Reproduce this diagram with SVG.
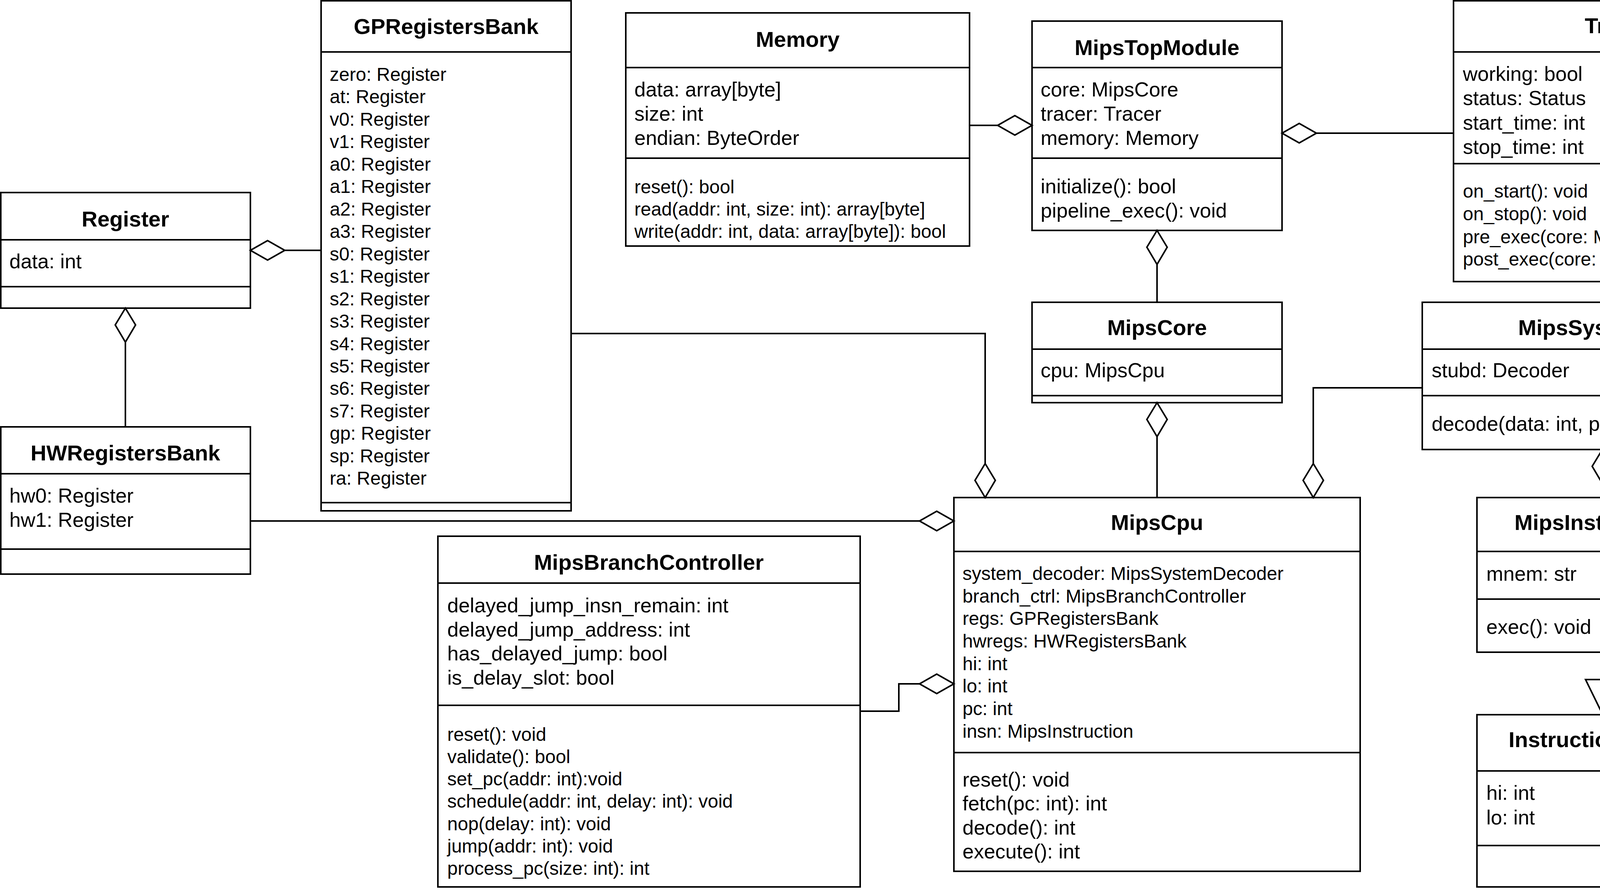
<svg xmlns="http://www.w3.org/2000/svg" width="5444" height="2284" viewBox="0 0 5444 2284">
<style>
.bx{fill:#fff;stroke:#000;stroke-width:4}
.dv{stroke:#000;stroke-width:4}
.ln{fill:none;stroke:#000;stroke-width:4}
.ag{fill:#fff;stroke:#000;stroke-width:4}
text{font-family:"Liberation Sans",Arial,Helvetica,sans-serif;fill:#000}
.t{font-size:56px;font-weight:bold;text-anchor:middle}
.s52{font-size:52px}
.s48{font-size:48px}
</style>
<rect x="0" y="0" width="5444" height="2284" fill="#fff"/>

<g id="Register">
<rect class="bx" x="2" y="493" width="639" height="296"/>
<line class="dv" x1="2" y1="614" x2="641" y2="614"/>
<line class="dv" x1="2" y1="734" x2="641" y2="734"/>
<text class="t" x="321" y="580">Register</text>
<text class="s52" x="24" y="687">data: int</text>
</g>

<g id="GPRegistersBank">
<rect class="bx" x="822" y="2" width="640" height="1306"/>
<line class="dv" x1="822" y1="133" x2="1462" y2="133"/>
<line class="dv" x1="822" y1="1287" x2="1462" y2="1287"/>
<text class="t" x="1142" y="87">GPRegistersBank</text>
<g class="s48">
<text x="844" y="207">zero: Register</text>
<text x="844" y="264">at: Register</text>
<text x="844" y="322">v0: Register</text>
<text x="844" y="379">v1: Register</text>
<text x="844" y="437">a0: Register</text>
<text x="844" y="494">a1: Register</text>
<text x="844" y="552">a2: Register</text>
<text x="844" y="609">a3: Register</text>
<text x="844" y="667">s0: Register</text>
<text x="844" y="724">s1: Register</text>
<text x="844" y="782">s2: Register</text>
<text x="844" y="839">s3: Register</text>
<text x="844" y="897">s4: Register</text>
<text x="844" y="954">s5: Register</text>
<text x="844" y="1011">s6: Register</text>
<text x="844" y="1069">s7: Register</text>
<text x="844" y="1126">gp: Register</text>
<text x="844" y="1184">sp: Register</text>
<text x="844" y="1241">ra: Register</text>
</g>
</g>

<g id="HWRegistersBank">
<rect class="bx" x="2" y="1093" width="639" height="377"/>
<line class="dv" x1="2" y1="1213" x2="641" y2="1213"/>
<line class="dv" x1="2" y1="1406" x2="641" y2="1406"/>
<text class="t" x="321" y="1179">HWRegistersBank</text>
<text class="s52" x="24" y="1287">hw0: Register</text>
<text class="s52" x="24" y="1349">hw1: Register</text>
</g>

<g id="Memory">
<rect class="bx" x="1602" y="33" width="880" height="597"/>
<line class="dv" x1="1602" y1="173" x2="2482" y2="173"/>
<line class="dv" x1="1602" y1="405" x2="2482" y2="405"/>
<text class="t" x="2042" y="120">Memory</text>
<text class="s52" x="1624" y="247">data: array[byte]</text>
<text class="s52" x="1624" y="309">size: int</text>
<text class="s52" x="1624" y="371">endian: ByteOrder</text>
<text class="s48" x="1624" y="495">reset(): bool</text>
<text class="s48" x="1624" y="552">read(addr: int, size: int): array[byte]</text>
<text class="s48" x="1624" y="609">write(addr: int, data: array[byte]): bool</text>
</g>

<g id="MipsTopModule">
<rect class="bx" x="2642" y="54" width="640" height="536"/>
<line class="dv" x1="2642" y1="173" x2="3282" y2="173"/>
<line class="dv" x1="2642" y1="405" x2="3282" y2="405"/>
<text class="t" x="2962" y="141">MipsTopModule</text>
<text class="s52" x="2664" y="247">core: MipsCore</text>
<text class="s52" x="2664" y="309">tracer: Tracer</text>
<text class="s52" x="2664" y="371">memory: Memory</text>
<text class="s52" x="2664" y="495">initialize(): bool</text>
<text class="s52" x="2664" y="557">pipeline_exec(): void</text>
</g>

<g id="MipsCore">
<rect class="bx" x="2642" y="774" width="640" height="257"/>
<line class="dv" x1="2642" y1="894" x2="3282" y2="894"/>
<line class="dv" x1="2642" y1="1013" x2="3282" y2="1013"/>
<text class="t" x="2962" y="858">MipsCore</text>
<text class="s52" x="2664" y="966">cpu: MipsCpu</text>
</g>

<g id="Tracer">
<rect class="bx" x="3721" y="2" width="841" height="719"/>
<line class="dv" x1="3721" y1="133" x2="4562" y2="133"/>
<line class="dv" x1="3721" y1="419" x2="4562" y2="419"/>
<text class="t" x="4141" y="85">Tracer</text>
<text class="s52" x="3745" y="207">working: bool</text>
<text class="s52" x="3745" y="269">status: Status</text>
<text class="s52" x="3745" y="332">start_time: int</text>
<text class="s52" x="3745" y="394">stop_time: int</text>
<text class="s48" x="3745" y="506">on_start(): void</text>
<text class="s48" x="3745" y="564">on_stop(): void</text>
<text class="s48" x="3745" y="623">pre_exec(core: MipsCore): void</text>
<text class="s48" x="3745" y="680">post_exec(core: MIpsCore): void</text>
</g>

<g id="Decoders">
<rect class="bx" x="4642" y="143" width="799" height="350"/>
<line class="dv" x1="4642" y1="254" x2="5441" y2="254"/>
<line class="dv" x1="4642" y1="375" x2="5441" y2="375"/>
<text class="t" x="5041" y="225">Decoders</text>
<text class="s48" x="4664" y="464">decode(data: int): MipsInstructions</text>
</g>

<g id="MipsSystemDecoder">
<rect class="bx" x="3641" y="774" width="1042" height="377"/>
<line class="dv" x1="3641" y1="894" x2="4683" y2="894"/>
<line class="dv" x1="3641" y1="1013" x2="4683" y2="1013"/>
<text class="t" x="4162" y="858">MipsSystemDecoder</text>
<text class="s52" x="3665" y="966">stubd: Decoder</text>
<text class="s52" x="3665" y="1103">decode(data: int, pc: int): MipsInstruction</text>
</g>

<g id="MipsBranchController">
<rect class="bx" x="1121" y="1373" width="1081" height="898"/>
<line class="dv" x1="1121" y1="1493" x2="2202" y2="1493"/>
<line class="dv" x1="1121" y1="1806" x2="2202" y2="1806"/>
<text class="t" x="1661" y="1459">MipsBranchController</text>
<text class="s52" x="1145" y="1568">delayed_jump_insn_remain: int</text>
<text class="s52" x="1145" y="1630">delayed_jump_address: int</text>
<text class="s52" x="1145" y="1691">has_delayed_jump: bool</text>
<text class="s52" x="1145" y="1753">is_delay_slot: bool</text>
<text class="s48" x="1145" y="1897">reset(): void</text>
<text class="s48" x="1145" y="1954">validate(): bool</text>
<text class="s48" x="1145" y="2011">set_pc(addr: int):void</text>
<text class="s48" x="1145" y="2068">schedule(addr: int, delay: int): void</text>
<text class="s48" x="1145" y="2126">nop(delay: int): void</text>
<text class="s48" x="1145" y="2183">jump(addr: int): void</text>
<text class="s48" x="1145" y="2240">process_pc(size: int): int</text>
</g>

<g id="MipsCpu">
<rect class="bx" x="2442" y="1274" width="1040" height="957"/>
<line class="dv" x1="2442" y1="1412" x2="3482" y2="1412"/>
<line class="dv" x1="2442" y1="1927" x2="3482" y2="1927"/>
<text class="t" x="2962" y="1357">MipsCpu</text>
<g class="s48">
<text x="2464" y="1485">system_decoder: MipsSystemDecoder</text>
<text x="2464" y="1543">branch_ctrl: MipsBranchController</text>
<text x="2464" y="1600">regs: GPRegistersBank</text>
<text x="2464" y="1658">hwregs: HWRegistersBank</text>
<text x="2464" y="1716">hi: int</text>
<text x="2464" y="1773">lo: int</text>
<text x="2464" y="1831">pc: int</text>
<text x="2464" y="1889">insn: MipsInstruction</text>
</g>
<text class="s52" x="2464" y="2014">reset(): void</text>
<text class="s52" x="2464" y="2075">fetch(pc: int): int</text>
<text class="s52" x="2464" y="2137">decode(): int</text>
<text class="s52" x="2464" y="2198">execute(): int</text>
</g>

<g id="MipsInstructions">
<rect class="bx" x="3781" y="1274" width="641" height="396"/>
<line class="dv" x1="3781" y1="1412" x2="4422" y2="1412"/>
<line class="dv" x1="3781" y1="1534" x2="4422" y2="1534"/>
<text class="t" x="4101" y="1357">MipsInstructions</text>
<text class="s52" x="3805" y="1487">mnem: str</text>
<text class="s52" x="3805" y="1623">exec(): void</text>
</g>

<g id="InstructionsTypes">
<rect class="bx" x="3781" y="1830" width="641" height="441"/>
<line class="dv" x1="3781" y1="1974" x2="4422" y2="1974"/>
<line class="dv" x1="3781" y1="2165" x2="4422" y2="2165"/>
<text class="t" x="4101" y="1913">InstructionsTypes</text>
<text class="s52" x="3805" y="2048">hi: int</text>
<text class="s52" x="3805" y="2111">lo: int</text>
</g>

<g id="Operands">
<rect class="bx" x="4802" y="1759" width="639" height="487"/>
<line class="dv" x1="4802" y1="1895" x2="5441" y2="1895"/>
<line class="dv" x1="4802" y1="2127" x2="5441" y2="2127"/>
<text class="t" x="5121" y="1840">Operands</text>
<text class="s52" x="4825" y="1965">type: Type</text>
<text class="s52" x="4825" y="2027">access: Access</text>
<text class="s52" x="4825" y="2089">value: int</text>
<text class="s52" x="4825" y="2214">get_value(): int</text>
</g>

<g id="connectors">
<!-- GPRegistersBank -> Register -->
<polyline class="ln" points="822,641 729,641"/>
<polygon class="ag" points="641,641 685,616 729,641 685,666"/>
<!-- HWRegistersBank -> Register -->
<polyline class="ln" points="321,1093 321,876"/>
<polygon class="ag" points="321,789 347,832 321,876 295,832"/>
<!-- GPRegistersBank -> MipsCpu -->
<polyline class="ln" points="1462,854 2522,854 2522,1187"/>
<polygon class="ag" points="2522,1274 2548,1230 2522,1187 2496,1230"/>
<!-- HWRegistersBank -> MipsCpu -->
<polyline class="ln" points="641,1334 2354,1334"/>
<polygon class="ag" points="2442,1334 2398,1309 2354,1334 2398,1359"/>
<!-- MipsBranchController -> MipsCpu -->
<polyline class="ln" points="2202,1821 2301,1821 2301,1751 2354,1751"/>
<polygon class="ag" points="2442,1751 2398,1726 2354,1751 2398,1776"/>
<!-- MipsCpu -> MipsCore -->
<polyline class="ln" points="2962,1274 2962,1118"/>
<polygon class="ag" points="2962,1031 2988,1074 2962,1118 2936,1074"/>
<!-- MipsCore -> MipsTopModule -->
<polyline class="ln" points="2962,774 2962,677"/>
<polygon class="ag" points="2962,590 2988,633 2962,677 2936,633"/>
<!-- Memory -> MipsTopModule -->
<polyline class="ln" points="2482,321 2554,321"/>
<polygon class="ag" points="2642,321 2598,296 2554,321 2598,346"/>
<!-- Tracer -> MipsTopModule -->
<polyline class="ln" points="3721,341 3370,341"/>
<polygon class="ag" points="3282,341 3326,316 3370,341 3326,366"/>
<!-- MipsSystemDecoder -> MipsCpu -->
<polyline class="ln" points="3641,993 3362,993 3362,1187"/>
<polygon class="ag" points="3362,1274 3388,1230 3362,1187 3336,1230"/>
<!-- MipsInstructions -> MipsSystemDecoder -->
<polyline class="ln" points="4102,1274 4102,1238"/>
<polygon class="ag" points="4102,1151 4128,1194 4102,1238 4076,1194"/>
<!-- MipsInstructions -> InstructionsTypes (inheritance) -->
<polyline class="ln" points="4102,1670 4102,1750"/>
<polygon class="ag" points="4059,1740 4145,1740 4102,1828"/>
<!-- MipsInstructions -> Decoders -->
<polyline class="ln" points="4422,1373 4882,1373 4882,493"/>
<!-- Operands -> MipsInstructions -->
<polyline class="ln" points="4922,1759 4922,1534 4510,1534"/>
<polygon class="ag" points="4422,1534 4466,1509 4510,1534 4466,1559"/>
<!-- Operands -> Decoders -->
<polyline class="ln" points="5161,1759 5161,580"/>
<polygon class="ag" points="5161,493 5187,536 5161,580 5135,536"/>
</g>
</svg>
